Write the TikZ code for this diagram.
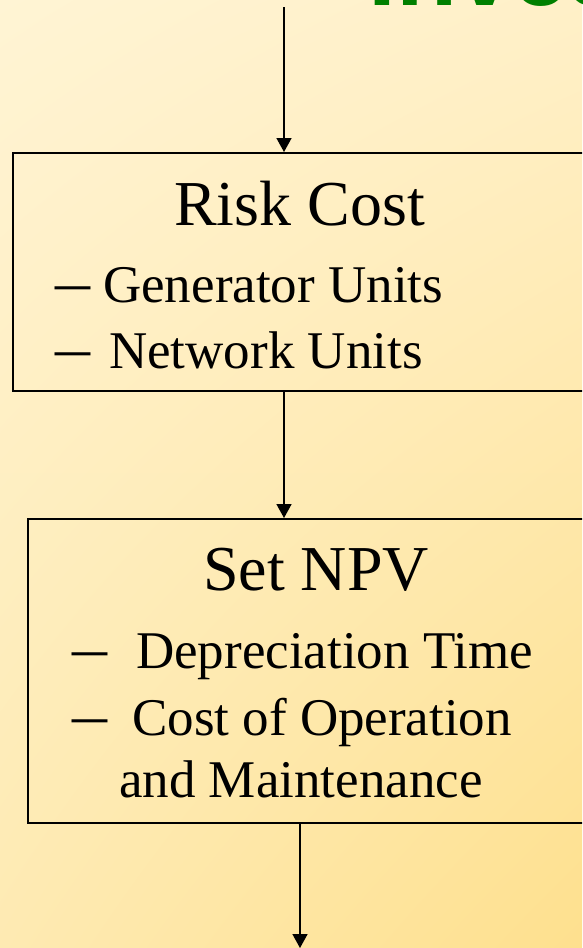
\documentclass[tikz,border=0pt]{standalone}
\usepackage{fontspec}
\setmainfont{Liberation Serif}
\newfontfamily\headfont{Liberation Sans}
\usetikzlibrary{arrows.meta,shadings}

\definecolor{bgA}{RGB}{255,244,212}
\definecolor{bgB}{RGB}{255,240,200}
\definecolor{bgC}{RGB}{254,234,178}
\definecolor{bgD}{RGB}{254,224,142}
\definecolor{headgreen}{RGB}{0,128,0}

\newcommand{\bigdash}{\scalebox{1.32}[1.15]{--}}

\begin{document}
\begin{tikzpicture}[x=1pt,y=-1pt,
  stagebox/.style={draw=black, line width=1.5pt, fill=none, inner sep=0pt,
    anchor=north west, minimum width=#1},
  title/.style={anchor=base west, inner sep=0pt, font=\fontsize{64}{70}\selectfont},
  item/.style={anchor=base west, inner sep=0pt, font=\fontsize{53}{60}\selectfont},
  flow/.style={line width=1.6pt, -{Triangle[width=15pt,length=14pt]}},
]
\useasboundingbox (0,0) rectangle (582,948);
\clip (0,0) rectangle (582,948);

% slide background
\shade[upper left=bgA, upper right=bgB, lower left=bgC, lower right=bgD]
  (0,0) rectangle (582,948);

% heading, running off the top of the slide
\node[anchor=base west, inner sep=0pt, text=headgreen,
      font=\headfont\bfseries\fontsize{100}{110}\selectfont] (head) at (368,5) {Inves};

% stage boxes
\node[stagebox=590pt, minimum height=238pt] (risk) at (12,152) {};
\node[stagebox=570pt, minimum height=304pt] (npv) at (27,518) {};

% Risk Cost contents
\node[title] (riskT) at (174,225) {Risk Cost};
\node[item] (riskD1) at (55,302) {\bigdash};
\node[item] (riskI1) at (103,302) {Generator Units};
\node[item] (riskD2) at (55,368) {\bigdash};
\node[item] (riskI2) at (109,368) {Network Units};

% Set NPV contents
\node[title] (npvT) at (203,590) {Set NPV};
\node[item] (npvD1) at (72,668) {\bigdash};
\node[item] (npvI1) at (136,668) {Depreciation Time};
\node[item] (npvD2) at (72,735) {\bigdash};
\node[item] (npvI2) at (132,735) {Cost of Operation};
\node[item] (npvI3) at (119,797) {and Maintenance};

% connectors
\coordinate (inflow) at (284,7);
\coordinate (outflow) at (300,948);
\draw[flow] (inflow) -- (risk.north -| inflow);
\draw[flow] (risk.south -| inflow) -- (npv.north -| inflow);
\draw[flow] (npv.south -| outflow) -- (outflow);
\end{tikzpicture}
\end{document}
